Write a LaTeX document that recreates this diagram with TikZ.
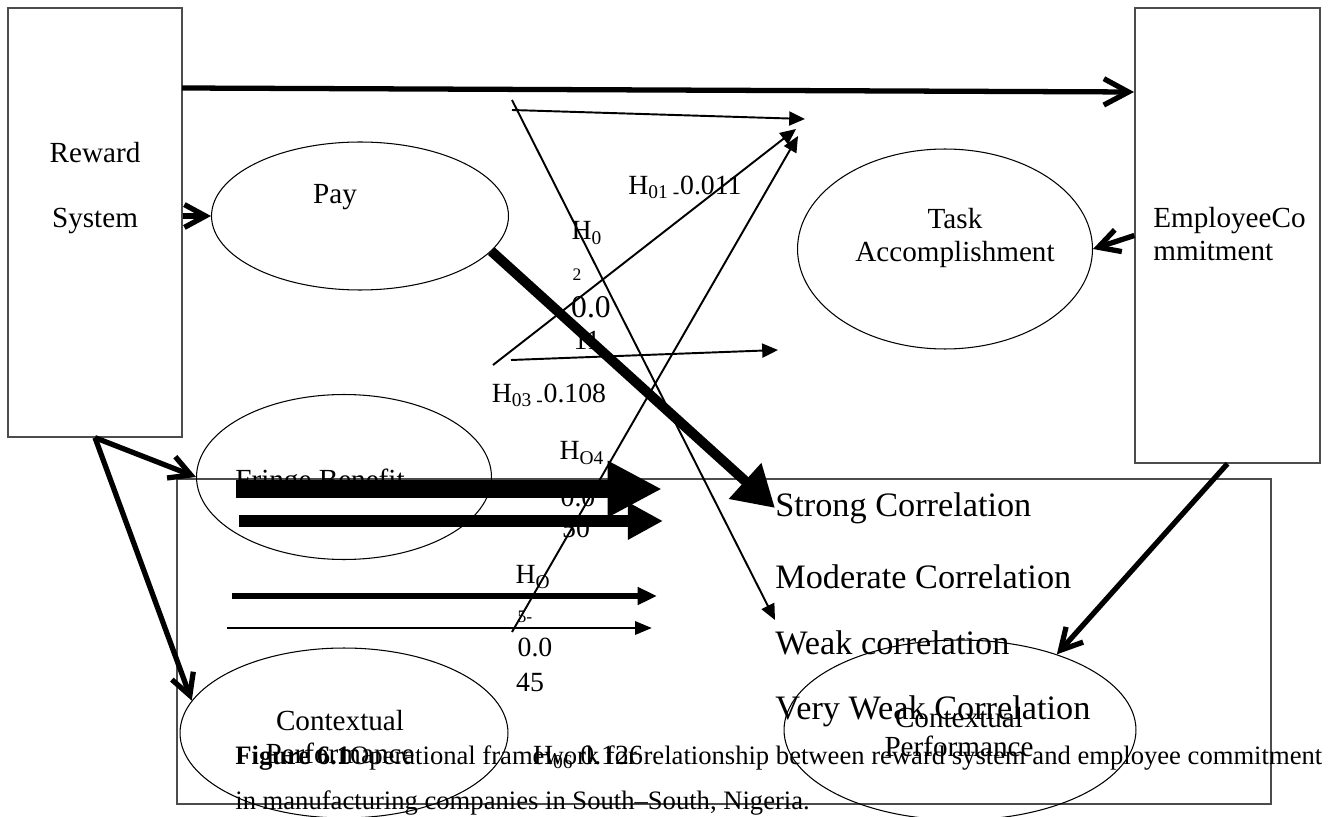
\documentclass[tikz,border=0pt]{standalone}
\usepackage{fontspec}
\setmainfont{Liberation Serif}
\usepackage{tikz}
\usetikzlibrary{
    arrows.meta,
    shapes.geometric
}
\tikzset
{
  box/.style={draw=black!70,line width=0.8pt,inner sep=0pt},
  oval/.style={draw,ellipse,line width=0.6pt,inner sep=0pt},
  lbl/.style={font=\fontsize{16.6}{18.7}\selectfont,inner sep=0pt,align=center},
  hlbl/.style={font=\fontsize{15.8}{18}\selectfont,inner sep=0pt},
  smalllbl/.style={font=\fontsize{10}{12}\selectfont,inner sep=0pt},
  corr/.style={font=\fontsize{19.5}{23}\selectfont,inner sep=0pt,anchor=west},
  captext/.style={font=\fontsize{15.15}{18}\selectfont,inner sep=0pt,anchor=west},
  openarrow/.style={line width=3pt,-{Straight Barb[length=12pt,width=13pt]}},
  thinarrow/.style={line width=1.1pt,-{Triangle[length=9pt,width=8pt]}}
}

\begin{document}
\begin{tikzpicture}[x=0.02cm,y=-0.02cm]
        \useasboundingbox (0,0) rectangle (1328,817);

        % Boxes and ovals
        \node[box,minimum width=3.48cm,minimum height=8.58cm] (reward) at (95,222.5) {};
        \node[box,minimum width=3.7cm,minimum height=9.1cm] (employee) at (1227.5,235.5) {};
        \node[box,minimum width=21.88cm,minimum height=6.5cm] (corrbox) at (724,641.5) {};
        \node[oval,minimum width=5.94cm,minimum height=2.96cm] (pay) at (360,216) {};
        \node[oval,minimum width=5.9cm,minimum height=4cm] (task) at (945,249) {};
        \node[oval,minimum width=5.9cm,minimum height=3.3cm] (fringe) at (344,477) {};
        \node[oval,minimum width=6.56cm,minimum height=3.4cm] (ctxleft) at (344,733) {};
        \node[oval,minimum width=7.04cm,minimum height=3.6cm] (ctxright) at (960,730) {};

        % Labels in the boxes and ovals
        \node[lbl,font=\fontsize{16.6}{36.9}\selectfont] (rewardtxt) at (95,188) {Reward\\System};
        \node[lbl,align=left,anchor=west] (employeetxt) at (1153,234) {EmployeeCo\\mmitment};
        \node[lbl] (paytxt) at (335,197) {Pay};
        \node[lbl] (tasktxt) at (955,238) {Task\\Accomplishment};
        \node[lbl] (fringetxt) at (320,482) {Fringe Benefit};
        \node[lbl,font=\fontsize{16.6}{18.7}\selectfont] (ctxlefttxt) at (340,737) {Contextual\\Performance};
        \node[lbl,font=\fontsize{16.6}{17}\selectfont] (ctxrighttxt) at (959,732) {Contextual\\Performance};

        % Correlation scale
        \node[corr] (strong) at (775,508) {Strong Correlation};
        \node[corr] (moderate) at (775,577) {Moderate Correlation};
        \node[corr] (weak) at (775,643) {Weak correlation};
        \node[corr] (veryweak) at (775,711) {Very Weak Correlation};

        % Hypotheses
        \node[hlbl] (h01) at (685,187) {H\textsubscript{01 -}0.011};
        \node[hlbl] (h02a) at (587,233) {H\textsubscript{0}};
        \node[smalllbl] (h02b) at (577,275) {2};
        \node[hlbl,font=\fontsize{18}{20}\selectfont] (h02c) at (591,307) {0.0};
        \node[hlbl] (h02d) at (587,340) {11};
        \node[hlbl] (h03) at (549,395) {H\textsubscript{03 -}0.108};
        \node[hlbl] (h04a) at (582,453) {H\textsubscript{O4}};
        \node[hlbl] (h04b) at (578,497) {0.0};
        \node[hlbl] (h04c) at (576,528) {50};
        \node[hlbl] (h05a) at (533,577) {H\textsubscript{O}};
        \node[smalllbl] (h05b) at (525,617) {5-};
        \node[hlbl] (h05c) at (535,647) {0.0};
        \node[hlbl] (h05d) at (530,682) {45};
        \node[hlbl] (h06) at (588,757) {H\textsubscript{06} 0.126};

        % Caption
        \node[captext] (caption) at (235,758) {\textbf{Figure 6.1}Operational framework for relationship between reward system and employee commitment};
        \node[captext] (caption2) at (235,803) {in manufacturing companies in South--South, Nigeria.};

        % Main links
        \coordinate (topls) at (182,88);
        \coordinate (tople) at (1134,92);
        \draw[openarrow,-{Straight Barb[length=14pt,width=15pt]}] (topls) -- (tople);
        \draw[openarrow] (reward.east |- pay.west) -- (pay.west);
        \draw[openarrow] (employee.west) -- (task.east);
        \draw[openarrow] (reward.south) -- (fringe.west);
        \draw[openarrow] (reward.south) -- (ctxleft.168);
        \draw[openarrow] (employee.south) -- (ctxright.38);
        \draw[line width=5.7pt,-{Triangle[length=23pt,width=26pt]}] (pay.-15) -- (strong.west);

        % Hypothesis lines
        \foreach \n/\xa/\ya/\xb/\yb in {a/512/100/775/620, b/512/110/805/119, c/493/365/796/129, d/512/632/798/136, e/511/360/778/350}
        {
            \coordinate (hs\n) at (\xa,\ya);
            \coordinate (he\n) at (\xb,\yb);
            \draw[thinarrow] (hs\n) -- (he\n);
        }

        % Strength bars
        \foreach \n/\xa/\xb/\y/\w/\hl/\hw in {1/236/662/489/10.5/31/30, 2/239/663/521/6.8/20/20, 3/232/657/596/3.4/11/9.6, 4/227/652/628/1.7/9.6/7.4}
        {
            \coordinate (bs\n) at (\xa,\y);
            \coordinate (be\n) at (\xb,\y);
            \draw[line width=\w pt,-{Triangle[length=\hl pt,width=\hw pt]}] (bs\n) -- (be\n);
        }
\end{tikzpicture}
\end{document}
